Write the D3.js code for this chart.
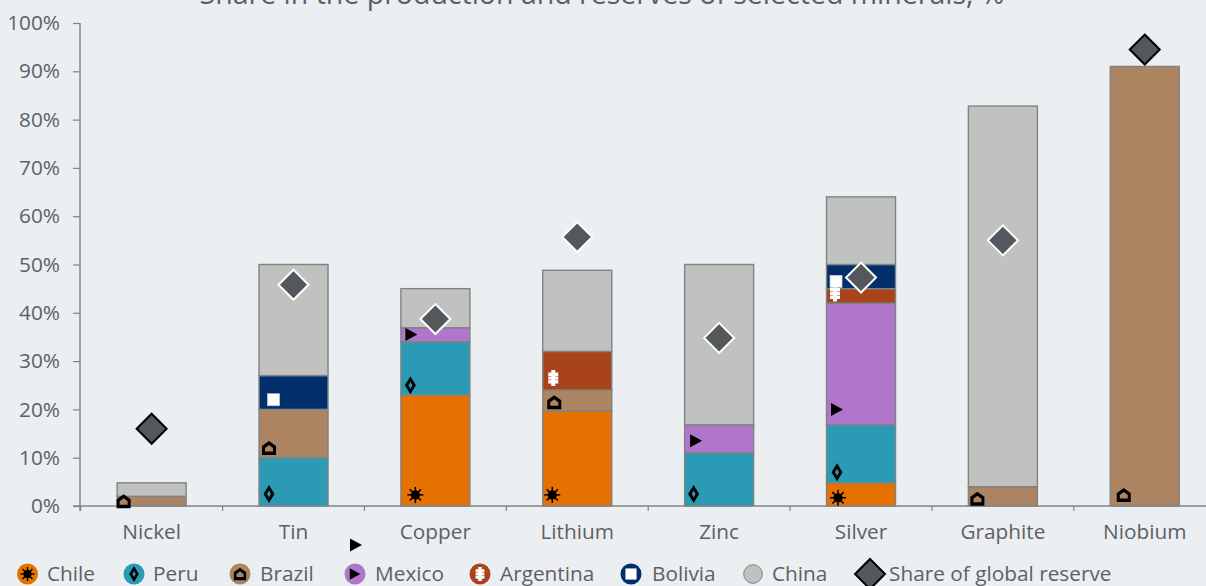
<!DOCTYPE html>
<html>
<head>
<meta charset="utf-8">
<script src="https://cdn.jsdelivr.net/npm/d3@7"></script>
<style>
html,body{margin:0;padding:0;background:#ebeff2;overflow:hidden}
text{font-family:"Open Sans",sans-serif;fill:#5c6166}
</style>
</head>
<body>
<svg id="chart" width="1206" height="586"></svg>
<script>
const chartTitle = "Share in the production and reserves of selected minerals, %";
const minerals = ["Nickel","Tin","Copper","Lithium","Zinc","Silver","Graphite","Niobium"];
const countries = ["Chile","Peru","Brazil","Mexico","Argentina","Bolivia","China"];
const chile     = [0,0,23,19.7,0,4.8,0,0];
const peru      = [0,10,11,0,11,12,0,0];
const brazil    = [2,10,0,4.3,0,0,4,91];
const mexico    = [0,0,2.9,0,5.8,25.2,0,0];
const argentina = [0,0,0,8,0,3,0,0];
const bolivia   = [0,7,0,0,0,5,0,0];
const china     = [2.8,23,8.1,16.8,33.2,14,78.8,0];
const reserveShare = [16,45.8,38.7,55.7,34.8,47.3,55,94.5];
const legendNames = [...countries,"Share of global reserve"];
const yTicks = [0,10,20,30,40,50,60,70,80,90,100];

// Height of each country symbol on the percent scale, per mineral; null where absent
const chileSymbol     = [null,null,2.3,2.3,null,1.7,null,null];
const peruSymbol      = [null,2.5,25,null,2.5,7,null,null];
const brazilSymbol    = [1,12,null,21.5,null,null,1.5,2.3];
const mexicoSymbol    = [null,null,35.5,null,13.5,20,null,null];
const argentinaSymbol = [null,null,null,26.5,null,44,null,null];
const boliviaSymbol   = [null,22,null,null,null,46.5,null,null];

const columns = {Chile:chile,Peru:peru,Brazil:brazil,Mexico:mexico,Argentina:argentina,Bolivia:bolivia,China:china};
const symbolRows = {Chile:chileSymbol,Peru:peruSymbol,Brazil:brazilSymbol,Mexico:mexicoSymbol,Argentina:argentinaSymbol,Bolivia:boliviaSymbol};

const fills = {Chile:"#e57200",Peru:"#2b9bb5",Brazil:"#ad8461",Mexico:"#b076cc",Argentina:"#a8431a",Bolivia:"#012f6c",China:"#c0c2c0"};
const diamondFill = "#54575b";
const axisColor = "#808487";

// Horizontal nudge of each symbol from its bar centre, in pixels
const symbolNudge = {
  Chile:{Copper:-20,Lithium:-25,Silver:-23},
  Peru:{Tin:-24.5,Copper:-25,Zinc:-25.5,Silver:-24},
  Brazil:{Nickel:-28,Tin:-24.5,Lithium:-23,Graphite:-25.5,Niobium:-21},
  Mexico:{Copper:-24,Zinc:-23,Silver:-24},
  Argentina:{Lithium:-24,Silver:-26},
  Bolivia:{Tin:-20,Silver:-25}
};

const svg = d3.select("#chart");
const x = d3.scaleBand().domain(minerals).range([80.7,1215.7]).paddingInner(0).paddingOuter(0);
const y = d3.scaleLinear().domain([0,100]).range([506,23]);
const barWidth = 69;

// Country symbols share a 0,0 centre so they can sit on a bar or in the legend
function drawSymbol(g, country, holeFill){
  if(country==="Chile"){
    g.append("circle").attr("r",4.6).attr("fill","#000");
    d3.range(8).forEach(i=>{
      const a=i*Math.PI/4;
      g.append("line").attr("x1",0).attr("y1",0)
       .attr("x2",8*Math.cos(a)).attr("y2",8*Math.sin(a))
       .attr("stroke","#000").attr("stroke-width",1.5);
    });
  } else if(country==="Peru"){
    g.append("path").attr("fill-rule","evenodd").attr("fill","#000")
     .attr("d","M0,-9L5.5,0L0,9L-5.5,0Z M0,-3.5L-2,0L0,3.5L2,0Z");
  } else if(country==="Brazil"){
    g.append("path").attr("d","M0,-7L7,-2L7,7L-7,7L-7,-2Z").attr("fill","#000");
    g.append("path").attr("d","M0,-3L4,0L4,3.5L-4,3.5L-4,0Z").attr("fill",holeFill||fills.Brazil);
  } else if(country==="Mexico"){
    g.append("path").attr("d","M-6,-6.5L6,0L-6,6.5Z").attr("fill","#000");
  } else if(country==="Argentina"){
    g.append("path").attr("fill","#fff")
     .attr("d","M-2,-8H2V-5.5H5V-2H2V-1.5H5V1.5H2V2H5V5.5H2V8H-2V5.5H-5V2H-2V1.5H-5V-1.5H-2V-2H-5V-5.5H-2Z");
  } else if(country==="Bolivia"){
    g.append("rect").attr("x",-6).attr("y",-6).attr("width",12).attr("height",12)
     .attr("fill","#fff").attr("stroke","#c5d0de").attr("stroke-width",0.7);
  }
}

function diamond(g, cx, cy, half, stroke){
  g.append("path")
   .attr("d",`M${cx},${cy-half}L${cx+half},${cy}L${cx},${cy+half}L${cx-half},${cy}Z`)
   .attr("fill",diamondFill).attr("stroke",stroke).attr("stroke-width",2);
}

// Title runs up against the top edge of the page
svg.append("text").attr("x",602).attr("y",4).attr("text-anchor","middle")
   .attr("font-size",28.5).text(chartTitle);

// Stacked bars
const rows = minerals.map((m,i)=>{
  const r={mineral:m};
  countries.forEach(c=>r[c]=columns[c][i]);
  return r;
});
const stacked = d3.stack().keys(countries)(rows);
const bars = svg.append("g");
stacked.forEach(layer=>{
  bars.selectAll(null).data(layer.filter(d=>d[1]>d[0])).join("rect")
    .attr("x",d=>x(d.data.mineral)+x.bandwidth()/2-barWidth/2)
    .attr("width",barWidth)
    .attr("y",d=>y(d[1]))
    .attr("height",d=>y(d[0])-y(d[1]))
    .attr("fill",fills[layer.key])
    .attr("stroke","#808284").attr("stroke-width",1.4);
});

// Axes
const yAxis = d3.axisLeft(y).tickValues(yTicks).tickFormat(d=>d+"%").tickSize(7).tickPadding(13);
const yG = svg.append("g").attr("transform","translate(80,0)").call(yAxis);
yG.select(".domain").attr("stroke",axisColor).attr("stroke-width",1.4).attr("d","M0,23V511");
yG.selectAll(".tick line").attr("stroke",axisColor).attr("stroke-width",1.2);
yG.selectAll("text").attr("font-size",20.8).style("font-family",'"Open Sans",sans-serif').attr("fill","#5c6166");

const xAxis = d3.axisBottom(x).tickSize(0).tickPadding(18);
const xG = svg.append("g").attr("transform","translate(0,506)").call(xAxis);
xG.select(".domain").attr("stroke",axisColor).attr("stroke-width",1.4).attr("d","M73,0H1206");
xG.selectAll("text").attr("font-size",20.8).style("font-family",'"Open Sans",sans-serif').attr("fill","#5c6166");
minerals.forEach(m=>{
  xG.append("line").attr("x1",x(m)).attr("x2",x(m)).attr("y1",0).attr("y2",5)
    .attr("stroke",axisColor).attr("stroke-width",1.2);
});

// Country symbols on the bars
Object.keys(symbolRows).forEach(c=>{
  symbolRows[c].forEach((v,i)=>{
    if(v===null) return;
    const m=minerals[i];
    const g=svg.append("g").attr("transform",
      `translate(${x(m)+x.bandwidth()/2+symbolNudge[c][m]},${y(v)})`);
    drawSymbol(g,c);
  });
});

// Reserve share diamonds
minerals.forEach((m,i)=>{
  const dark = m==="Nickel"||m==="Niobium";
  diamond(svg, x(m)+x.bandwidth()/2, y(reserveShare[i]), 15, dark?"#000":"#fff");
});

// Legend
const legendX = [27.5,134,240,355,480,631,753];
const legendTextX = [47,153,260,375,500,652,772];
const legendY = 574;
countries.forEach((c,i)=>{
  const g=svg.append("g").attr("transform",`translate(${legendX[i]},${legendY})`);
  if(c==="China"){
    g.append("circle").attr("r",9.3).attr("fill",fills[c]).attr("stroke","#808284").attr("stroke-width",1);
  } else {
    g.append("circle").attr("r",10.5).attr("fill",fills[c]);
    drawSymbol(g.append("g").attr("transform","scale(0.88)"),c);
  }
  svg.append("text").attr("x",legendTextX[i]).attr("y",legendY).attr("dy","0.35em")
     .attr("font-size",20.8).text(legendNames[i]);
});
diamond(svg,870,legendY,15,"#000");
svg.append("text").attr("x",889).attr("y",legendY).attr("dy","0.35em")
   .attr("font-size",20.8).text(legendNames[7]);

// Loose triangle symbol sitting above the legend
drawSymbol(svg.append("g").attr("transform","translate(356,545)"),"Mexico");
</script>
</body>
</html>
